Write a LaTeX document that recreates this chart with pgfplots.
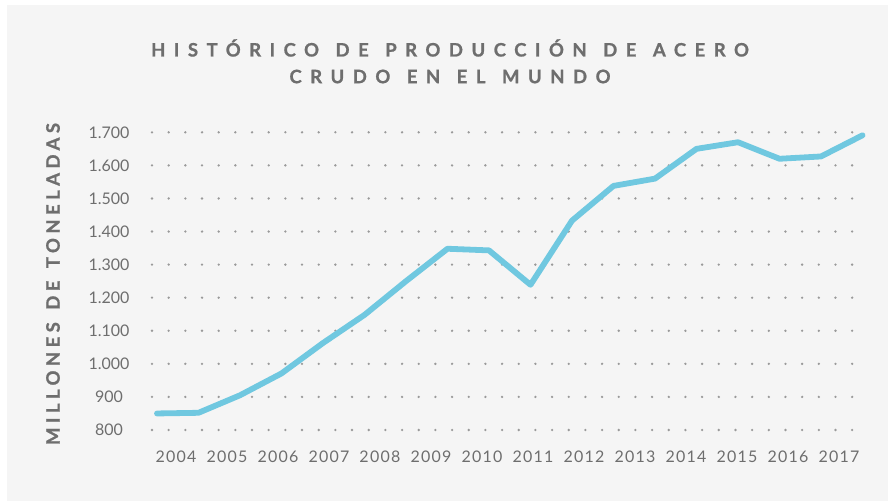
\documentclass[border=0pt]{standalone}
\usepackage{pgfplots}
\pgfplotsset{compat=1.18}
\usepackage{fontspec}
\setmainfont{Lato}
\definecolor{bgc}{HTML}{F5F5F5}
\definecolor{txt}{HTML}{6E6E6E}
\definecolor{linec}{HTML}{70C8E0}
\definecolor{dotc}{HTML}{9A9A9A}
\newcommand{\ws}{\hspace{3.5pt} }
\begin{document}
\begin{tikzpicture}
\fill[white] (0pt,0pt) rectangle (888pt,501pt);
\fill[bgc] (7pt,0pt) rectangle (888pt,496pt);
\path[use as bounding box] (0pt,0pt) rectangle (888pt,501pt);
\node[anchor=base, inner sep=0pt, text=txt, font=\fontsize{18.5}{20}\selectfont\bfseries\addfontfeature{LetterSpace=46,FakeBold=1}] at (450pt,444.5pt) {HISTÓRICO\ws DE\ws PRODUCCIÓN\ws DE\ws ACERO};
\node[anchor=base, inner sep=0pt, text=txt, font=\fontsize{18.5}{20}\selectfont\bfseries\addfontfeature{LetterSpace=46,FakeBold=1}] at (450pt,417.8pt) {CRUDO\ws EN\ws EL\ws MUNDO};
\node[anchor=center, inner sep=0pt, rotate=90, text=txt, font=\fontsize{18.5}{20}\selectfont\bfseries\addfontfeature{LetterSpace=24,FakeBold=1}] at (53pt,217pt) {MILLONES\ws DE\ws TONELADAS};
\begin{axis}[
  at={(152pt,71pt)}, anchor=south west,
  width=715.5pt, height=297.7pt, scale only axis,
  xmin=-0.12, xmax=17.12, ymin=800, ymax=1700,
  clip=false,
  axis line style={draw=none},
  major tick length=0pt,
  ytick={800,900,...,1700},
  xtick={0.458,1.687,2.916,4.145,5.373,6.602,7.831,9.060,10.289,11.518,12.747,13.976,15.204,16.433},
  xticklabels={2004,2005,2006,2007,2008,2009,2010,2011,2012,2013,2014,2015,2016,2017},
  ymajorgrids,
  grid style={dotc, line width=2.6pt, line cap=round, dash pattern=on 0pt off 16.67pt},
  tick label style={font=\fontsize{16}{16}\selectfont, text=txt},
  yticklabel style={anchor=center, xshift=-43pt, /pgf/number format/1000 sep={.}, /pgf/number format/assume math mode=true},
  xticklabel style={anchor=center, yshift=-26.5pt, font=\fontsize{16}{16}\selectfont\addfontfeature{LetterSpace=8}},
]
\addplot[linec, line width=5.8pt, line join=round, line cap=round] coordinates {
(0,850) (1,852) (2,905) (3,971) (4,1063) (5,1148) (6,1250) (7,1348) (8,1343) (9,1239)
(10,1433) (11,1538) (12,1560) (13,1650) (14,1670) (15,1620) (16,1627) (17,1691)};
\end{axis}
\end{tikzpicture}
\end{document}
